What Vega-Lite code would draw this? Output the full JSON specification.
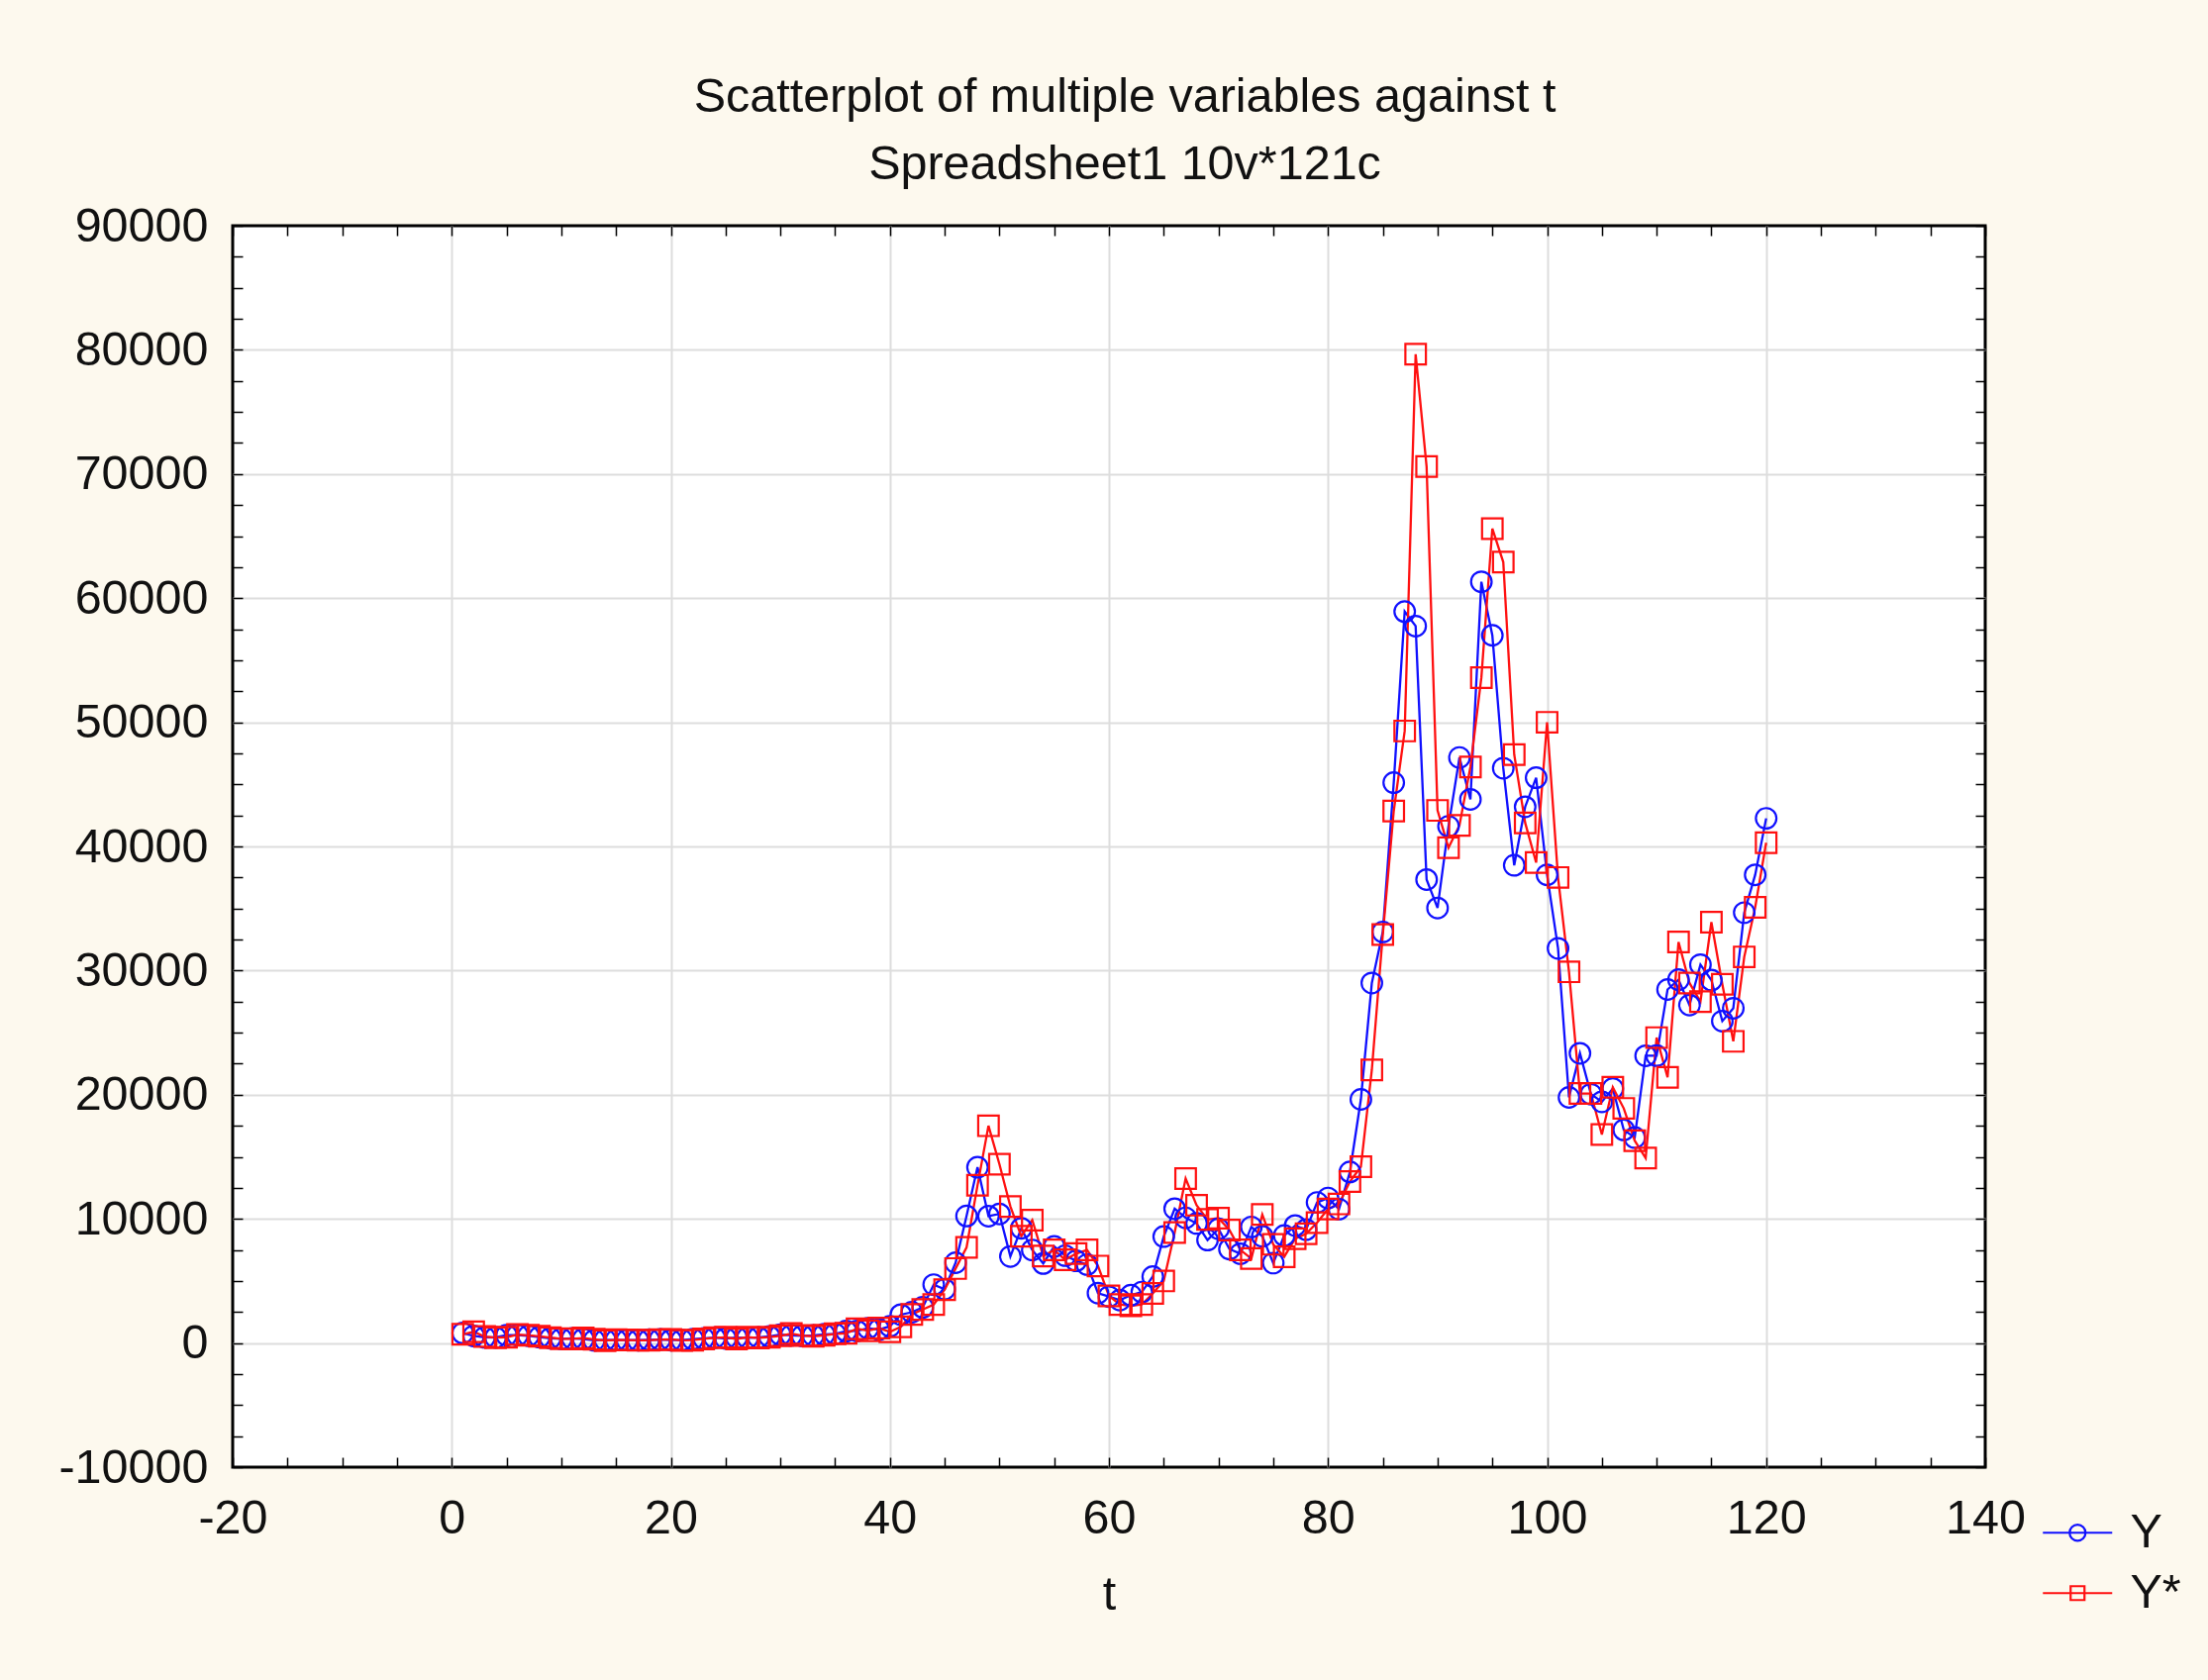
{
  "$schema": "https://vega.github.io/schema/vega-lite/v6.json",
  "width": 1770,
  "height": 1254,
  "autosize": {"type": "none"},
  "padding": {"left": 235, "top": 228, "right": 225, "bottom": 215},
  "background": "#FDF9EE",
  "config": {
    "view": {"fill": "white", "stroke": "#000000", "strokeWidth": 3},
    "font": "Liberation Sans"
  },
  "title": {
    "text": ["Scatterplot of multiple variables against t", "Spreadsheet1 10v*121c"],
    "font": "Liberation Sans",
    "fontSize": 48.5,
    "fontWeight": "normal",
    "color": "#111111",
    "lineHeight": 68,
    "offset": 13,
    "dx": 16,
    "anchor": "middle"
  },
  "data": {
    "values": [
      {"t": 1, "Y": 800, "Y*": 700}, {"t": 2, "Y": 573, "Y*": 900}, {"t": 3, "Y": 457, "Y*": 520},
      {"t": 4, "Y": 448, "Y*": 430}, {"t": 5, "Y": 630, "Y*": 460}, {"t": 6, "Y": 640, "Y*": 680},
      {"t": 7, "Y": 586, "Y*": 620}, {"t": 8, "Y": 480, "Y*": 540}, {"t": 9, "Y": 387, "Y*": 430},
      {"t": 10, "Y": 338, "Y*": 340}, {"t": 11, "Y": 378, "Y*": 330}, {"t": 12, "Y": 320, "Y*": 400},
      {"t": 13, "Y": 217, "Y*": 300}, {"t": 14, "Y": 254, "Y*": 190}, {"t": 15, "Y": 244, "Y*": 260},
      {"t": 16, "Y": 236, "Y*": 240}, {"t": 17, "Y": 230, "Y*": 225}, {"t": 18, "Y": 264, "Y*": 220},
      {"t": 19, "Y": 284, "Y*": 270}, {"t": 20, "Y": 230, "Y*": 290}, {"t": 21, "Y": 236, "Y*": 210},
      {"t": 22, "Y": 314, "Y*": 230}, {"t": 23, "Y": 377, "Y*": 330}, {"t": 24, "Y": 430, "Y*": 420},
      {"t": 25, "Y": 369, "Y*": 460}, {"t": 26, "Y": 437, "Y*": 330}, {"t": 27, "Y": 416, "Y*": 470},
      {"t": 28, "Y": 448, "Y*": 410}, {"t": 29, "Y": 531, "Y*": 470}, {"t": 30, "Y": 674, "Y*": 580},
      {"t": 31, "Y": 624, "Y*": 760}, {"t": 32, "Y": 575, "Y*": 600}, {"t": 33, "Y": 609, "Y*": 540},
      {"t": 34, "Y": 700, "Y*": 620}, {"t": 35, "Y": 742, "Y*": 740}, {"t": 36, "Y": 963, "Y*": 780},
      {"t": 37, "Y": 970, "Y*": 1150}, {"t": 38, "Y": 1190, "Y*": 990}, {"t": 39, "Y": 1080, "Y*": 1200},
      {"t": 40, "Y": 1348, "Y*": 900}, {"t": 41, "Y": 2286, "Y*": 1300}, {"t": 42, "Y": 2480, "Y*": 2300},
      {"t": 43, "Y": 2875, "Y*": 2700}, {"t": 44, "Y": 4703, "Y*": 3100}, {"t": 45, "Y": 4338, "Y*": 4300},
      {"t": 46, "Y": 6468, "Y*": 6000}, {"t": 47, "Y": 10233, "Y*": 7700}, {"t": 48, "Y": 14156, "Y*": 12700},
      {"t": 49, "Y": 10221, "Y*": 17500}, {"t": 50, "Y": 10397, "Y*": 14400}, {"t": 51, "Y": 6973, "Y*": 11000},
      {"t": 52, "Y": 9240, "Y*": 8600}, {"t": 53, "Y": 7494, "Y*": 9900}, {"t": 54, "Y": 6404, "Y*": 7000},
      {"t": 55, "Y": 7780, "Y*": 7500}, {"t": 56, "Y": 7037, "Y*": 6700}, {"t": 57, "Y": 6625, "Y*": 7200},
      {"t": 58, "Y": 6317, "Y*": 7500}, {"t": 59, "Y": 4017, "Y*": 6200}, {"t": 60, "Y": 3742, "Y*": 3800},
      {"t": 61, "Y": 3457, "Y*": 3100}, {"t": 62, "Y": 3854, "Y*": 3000}, {"t": 63, "Y": 4105, "Y*": 3100},
      {"t": 64, "Y": 5350, "Y*": 4000}, {"t": 65, "Y": 8574, "Y*": 5000}, {"t": 66, "Y": 10817, "Y*": 8900},
      {"t": 67, "Y": 10085, "Y*": 13250}, {"t": 68, "Y": 9630, "Y*": 11100}, {"t": 69, "Y": 8293, "Y*": 9950},
      {"t": 70, "Y": 9199, "Y*": 10050}, {"t": 71, "Y": 7569, "Y*": 9100}, {"t": 72, "Y": 7193, "Y*": 7500},
      {"t": 73, "Y": 9350, "Y*": 6800}, {"t": 74, "Y": 8600, "Y*": 10350}, {"t": 75, "Y": 6438, "Y*": 7950},
      {"t": 76, "Y": 8658, "Y*": 6950}, {"t": 77, "Y": 9461, "Y*": 8400}, {"t": 78, "Y": 9137, "Y*": 8800},
      {"t": 79, "Y": 11323, "Y*": 9700}, {"t": 80, "Y": 11680, "Y*": 10800}, {"t": 81, "Y": 10784, "Y*": 11200},
      {"t": 82, "Y": 13781, "Y*": 13000}, {"t": 83, "Y": 19625, "Y*": 14200}, {"t": 84, "Y": 29001, "Y*": 22000},
      {"t": 85, "Y": 33114, "Y*": 32900}, {"t": 86, "Y": 45137, "Y*": 42850}, {"t": 87, "Y": 58918, "Y*": 49300},
      {"t": 88, "Y": 57750, "Y*": 79650}, {"t": 89, "Y": 37332, "Y*": 70600}, {"t": 90, "Y": 35041, "Y*": 42900},
      {"t": 91, "Y": 41626, "Y*": 39900}, {"t": 92, "Y": 47166, "Y*": 41700}, {"t": 93, "Y": 43790, "Y*": 46400},
      {"t": 94, "Y": 61318, "Y*": 53600}, {"t": 95, "Y": 57005, "Y*": 65600}, {"t": 96, "Y": 46306, "Y*": 62900},
      {"t": 97, "Y": 38483, "Y*": 47400}, {"t": 98, "Y": 43194, "Y*": 41900}, {"t": 99, "Y": 45538, "Y*": 38700},
      {"t": 100, "Y": 37714, "Y*": 50000}, {"t": 101, "Y": 31792, "Y*": 37500}, {"t": 102, "Y": 19785, "Y*": 29900},
      {"t": 103, "Y": 23337, "Y*": 20100}, {"t": 104, "Y": 20050, "Y*": 20100}, {"t": 105, "Y": 19432, "Y*": 16800},
      {"t": 106, "Y": 20495, "Y*": 20600}, {"t": 107, "Y": 17168, "Y*": 18900}, {"t": 108, "Y": 16548, "Y*": 16300},
      {"t": 109, "Y": 23139, "Y*": 14900}, {"t": 110, "Y": 23147, "Y*": 24600}, {"t": 111, "Y": 28478, "Y*": 21400},
      {"t": 112, "Y": 29268, "Y*": 32300}, {"t": 113, "Y": 27220, "Y*": 29000}, {"t": 114, "Y": 30477, "Y*": 27500},
      {"t": 115, "Y": 29230, "Y*": 33900}, {"t": 116, "Y": 25931, "Y*": 28900}, {"t": 117, "Y": 26968, "Y*": 24300},
      {"t": 118, "Y": 34668, "Y*": 31100}, {"t": 119, "Y": 37713, "Y*": 35100}, {"t": 120, "Y": 42265, "Y*": 40300}
    ]
  },
  "transform": [{"fold": ["Y", "Y*"], "as": ["series", "value"]}],
  "layer": [
    {
      "mark": {"type": "line", "strokeWidth": 2.3},
      "encoding": {
        "x": {
          "field": "t", "type": "quantitative",
          "scale": {"domain": [-20, 140], "nice": false, "zero": false},
          "axis": {
            "orient": "bottom",
            "values": [-20,-15,-10,-5,0,5,10,15,20,25,30,35,40,45,50,55,60,65,70,75,80,85,90,95,100,105,110,115,120,125,130,135,140],
            "tickSize": -10, "tickColor": "#000000", "tickWidth": 1.5,
            "labelExpr": "datum.value % 20 === 0 ? '' + datum.value : ''",
            "labelFont": "Liberation Sans", "labelFontSize": 48.5, "labelColor": "#111111",
            "labelPadding": 38, "labelFlush": false, "labelOverlap": false, "labelBound": false,
            "grid": true,
            "gridColor": {"condition": {"test": "datum.value % 20 === 0 && datum.value > -20 && datum.value < 140", "value": "#DDDDDD"}, "value": "transparent"},
            "gridWidth": 2,
            "domain": false,
            "title": "t", "titleFont": "Liberation Sans", "titleFontSize": 48.5, "titleFontWeight": "normal", "titleColor": "#111111", "titlePadding": 30
          }
        },
        "y": {
          "field": "value", "type": "quantitative",
          "scale": {"domain": [-10000, 90000], "nice": false, "zero": false},
          "axis": {
            "orient": "left",
            "values": [-10000,-7500,-5000,-2500,0,2500,5000,7500,10000,12500,15000,17500,20000,22500,25000,27500,30000,32500,35000,37500,40000,42500,45000,47500,50000,52500,55000,57500,60000,62500,65000,67500,70000,72500,75000,77500,80000,82500,85000,87500,90000],
            "tickSize": -10, "tickColor": "#000000", "tickWidth": 1.5,
            "labelExpr": "datum.value % 10000 === 0 ? '' + datum.value : ''",
            "labelFont": "Liberation Sans", "labelFontSize": 48.5, "labelColor": "#111111",
            "labelPadding": 35, "labelFlush": false, "labelOverlap": false, "labelBound": false,
            "grid": true,
            "gridColor": {"condition": {"test": "datum.value % 10000 === 0 && datum.value > -10000 && datum.value < 90000", "value": "#DDDDDD"}, "value": "transparent"},
            "gridWidth": 2,
            "domain": false,
            "title": null
          }
        },
        "color": {
          "field": "series", "type": "nominal",
          "scale": {"domain": ["Y", "Y*"], "range": ["#1010FF", "#FF1010"]},
          "legend": {
            "orient": "none", "legendX": 1839, "legendY": 1296,
            "title": null, "padding": 0,
            "labelFont": "Liberation Sans", "labelFontSize": 48.5, "labelColor": "#111111",
            "labelOffset": 29, "rowPadding": 12,
            "symbolSize": 1225, "symbolStrokeWidth": 2.2, "symbolOpacity": 1
          }
        }
      }
    },
    {
      "transform": [{"filter": {"field": "series", "equal": "Y"}}],
      "mark": {"type": "point", "shape": "circle", "filled": false, "strokeWidth": 2.2, "size": 430, "opacity": 1},
      "encoding": {
        "x": {
          "field": "t", "type": "quantitative",
          "scale": {"domain": [-20, 140], "nice": false, "zero": false},
          "axis": {
            "orient": "top",
            "values": [-20,-15,-10,-5,0,5,10,15,20,25,30,35,40,45,50,55,60,65,70,75,80,85,90,95,100,105,110,115,120,125,130,135,140],
            "tickSize": -10, "tickColor": "#000000", "tickWidth": 1.5,
            "labels": false, "grid": false, "domain": false, "title": null
          }
        },
        "y": {
          "field": "value", "type": "quantitative",
          "scale": {"domain": [-10000, 90000], "nice": false, "zero": false},
          "axis": {
            "orient": "right",
            "values": [-10000,-7500,-5000,-2500,0,2500,5000,7500,10000,12500,15000,17500,20000,22500,25000,27500,30000,32500,35000,37500,40000,42500,45000,47500,50000,52500,55000,57500,60000,62500,65000,67500,70000,72500,75000,77500,80000,82500,85000,87500,90000],
            "tickSize": -10, "tickColor": "#000000", "tickWidth": 1.5,
            "labels": false, "grid": false, "domain": false, "title": null
          }
        },
        "color": {"field": "series", "type": "nominal", "scale": {"domain": ["Y", "Y*"], "range": ["#1010FF", "#FF1010"]}}
      }
    },
    {
      "transform": [{"filter": {"field": "series", "equal": "Y*"}}],
      "mark": {"type": "point", "shape": "square", "filled": false, "strokeWidth": 2.2, "size": 430, "opacity": 1},
      "encoding": {
        "x": {"field": "t", "type": "quantitative", "scale": {"domain": [-20, 140], "nice": false, "zero": false}, "axis": null},
        "y": {"field": "value", "type": "quantitative", "scale": {"domain": [-10000, 90000], "nice": false, "zero": false}, "axis": null},
        "color": {"field": "series", "type": "nominal", "scale": {"domain": ["Y", "Y*"], "range": ["#1010FF", "#FF1010"]}}
      }
    },
    {
      "mark": {"type": "point", "filled": false, "opacity": 0},
      "encoding": {
        "x": {"field": "t", "type": "quantitative", "scale": {"domain": [-20, 140], "nice": false, "zero": false}, "axis": null},
        "y": {"field": "value", "type": "quantitative", "scale": {"domain": [-10000, 90000], "nice": false, "zero": false}, "axis": null},
        "color": {"field": "series", "type": "nominal", "scale": {"domain": ["Y", "Y*"], "range": ["#1010FF", "#FF1010"]}},
        "shape": {
          "field": "series", "type": "nominal",
          "scale": {"domain": ["Y", "Y*"], "range": ["M-2,0H2M0.46,0A0.46,0.46,0,1,1,-0.46,0A0.46,0.46,0,1,1,0.46,0", "M-2,0H2M-0.4,-0.4H0.4V0.4H-0.4Z"]},
          "legend": {
            "orient": "none", "legendX": 1839, "legendY": 1296,
            "title": null, "padding": 0,
            "labelFont": "Liberation Sans", "labelFontSize": 48.5, "labelColor": "#111111",
            "labelOffset": 29, "rowPadding": 12,
            "symbolSize": 1225, "symbolStrokeWidth": 2.2, "symbolOpacity": 1
          }
        }
      }
    }
  ],
  "resolve": {"axis": {"x": "independent", "y": "independent"}}
}
